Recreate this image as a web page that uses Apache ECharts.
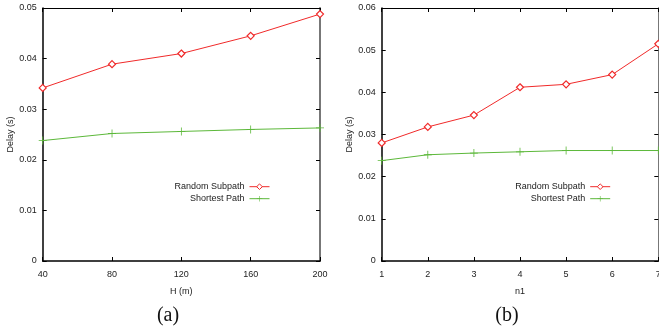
<!DOCTYPE html>
<html>
<head>
<meta charset="utf-8">
<script src="https://cdn.jsdelivr.net/npm/echarts@6/dist/echarts.min.js"></script>
<style>html,body{margin:0;padding:0;background:#fff}#c{width:659px;height:334px}</style>
</head>
<body>
<div id="c"></div>
<script>
// Panel (a)
const hValues = [40, 80, 120, 160, 200];
const randomA = [0.0342, 0.0389, 0.0410, 0.0445, 0.0488];
const shortestA = [0.0238, 0.0252, 0.0256, 0.0260, 0.0263];
// Panel (b)
const n1Values = [1, 2, 3, 4, 5, 6, 7];
const randomB = [0.0280, 0.0318, 0.0346, 0.0412, 0.0419, 0.0442, 0.0515];
const shortestB = [0.0238, 0.0252, 0.0256, 0.0259, 0.0262, 0.0262, 0.0262];

const seriesNames = ['Random Subpath', 'Shortest Path'];
const RED = '#f02a2a', GREEN = '#5cb83a';
const FONT = 'Liberation Sans, Arial, sans-serif';
const TXT = '#222';
const plusPath = 'path://M4.5,0H5.5V4.5H10V5.5H5.5V10H4.5V5.5H0V4.5H4.5Z';

function pairs(xs, ys) { return xs.map((x, i) => [x, ys[i]]); }

function mainX(grid, min, max, interval, name) {
  return {
    type: 'value', gridIndex: grid, min, max, interval, position: 'bottom',
    name, nameLocation: 'middle', nameGap: 26,
    nameTextStyle: { fontFamily: FONT, fontSize: 9, color: TXT },
    axisLine: { show: true, onZero: false, lineStyle: { color: '#000', width: 1.5 } },
    axisTick: { show: true, inside: true, length: 4, lineStyle: { color: '#000' } },
    axisLabel: { fontFamily: FONT, fontSize: 9, color: TXT, margin: 9, hideOverlap: false },
    splitLine: { show: false }
  };
}
function mirrorX(grid, min, max, interval) {
  return {
    type: 'value', gridIndex: grid, min, max, interval, position: 'top',
    axisLine: { show: true, onZero: false, lineStyle: { color: '#000', width: 1 } },
    axisTick: { show: true, inside: true, length: 4, lineStyle: { color: '#000' } },
    axisLabel: { show: false }, splitLine: { show: false }
  };
}
function mainY(grid, max, gap) {
  return {
    type: 'value', gridIndex: grid, min: 0, max, interval: 0.01, position: 'left',
    name: 'Delay (s)', nameLocation: 'middle', nameGap: gap, nameRotate: 90,
    nameTextStyle: { fontFamily: FONT, fontSize: 9, color: TXT },
    axisLine: { show: true, onZero: false, lineStyle: { color: '#000', width: 1.5 } },
    axisTick: { show: true, inside: true, length: 4, lineStyle: { color: '#000' } },
    axisLabel: { fontFamily: FONT, fontSize: 9, color: TXT, margin: 6,
      formatter: v => v === 0 ? '0' : v.toFixed(2) },
    splitLine: { show: false }
  };
}
function mirrorY(grid, max) {
  return {
    type: 'value', gridIndex: grid, min: 0, max, interval: 0.01, position: 'right',
    axisLine: { show: true, onZero: false, lineStyle: { color: '#777', width: 2 } },
    axisTick: { show: true, inside: true, length: 4, lineStyle: { color: '#000' } },
    axisLabel: { show: false }, splitLine: { show: false }
  };
}
function redSeries(x, y, data) {
  return {
    name: seriesNames[0], type: 'line', xAxisIndex: x, yAxisIndex: y, data,
    symbol: 'diamond', symbolSize: 7, showSymbol: true,
    lineStyle: { color: RED, width: 1 },
    itemStyle: { color: '#fff', borderColor: RED, borderWidth: 1.2 },
    animation: false
  };
}
function greenSeries(x, y, data) {
  return {
    name: seriesNames[1], type: 'line', xAxisIndex: x, yAxisIndex: y, data,
    symbol: plusPath, symbolSize: 8, showSymbol: true,
    lineStyle: { color: GREEN, width: 1 },
    itemStyle: { color: GREEN },
    animation: false
  };
}
function legendItem(name, right, top) {
  return {
    data: [name], right, top, orient: 'vertical', align: 'right', padding: 0,
    itemWidth: 20, itemHeight: 7, selectedMode: false,
    lineStyle: { width: 1 },
    itemStyle: { borderWidth: 1 },
    textStyle: { fontFamily: FONT, fontSize: 9, color: TXT }
  };
}

const option = {
  animation: false,
  grid: [
    { left: 42.7, right: 339, top: 8, bottom: 73, outerBoundsMode: 'none', containLabel: false },
    { left: 381.7, right: 0.7, top: 8, bottom: 73, outerBoundsMode: 'none', containLabel: false }
  ],
  xAxis: [
    mainX(0, 40, 200, 40, 'H (m)'),
    mirrorX(0, 40, 200, 40),
    mainX(1, 1, 7, 1, 'n1'),
    mirrorX(1, 1, 7, 1)
  ],
  yAxis: [
    mainY(0, 0.05, 27.5),
    mirrorY(0, 0.05),
    mainY(1, 0.06, 27),
    mirrorY(1, 0.06)
  ],
  legend: [
    legendItem(seriesNames[0], 389, 182.2),
    legendItem(seriesNames[1], 389, 194.2),
    legendItem(seriesNames[0], 48.3, 182.2),
    legendItem(seriesNames[1], 48.3, 194.2)
  ],
  title: [
    { text: '(a)', left: 168, top: 306, textAlign: 'center', padding: 0,
      textStyle: { fontFamily: 'Liberation Serif, Times New Roman, serif', fontSize: 20, fontWeight: 'normal', color: '#111' } },
    { text: '(b)', left: 507, top: 306, textAlign: 'center', padding: 0,
      textStyle: { fontFamily: 'Liberation Serif, Times New Roman, serif', fontSize: 20, fontWeight: 'normal', color: '#111' } }
  ],
  series: [
    redSeries(0, 0, pairs(hValues, randomA)),
    greenSeries(0, 0, pairs(hValues, shortestA)),
    redSeries(2, 2, pairs(n1Values, randomB)),
    greenSeries(2, 2, pairs(n1Values, shortestB))
  ]
};
const chart = echarts.init(document.getElementById('c'), null, { renderer: 'canvas' });
chart.setOption(option);
</script>
</body>
</html>
